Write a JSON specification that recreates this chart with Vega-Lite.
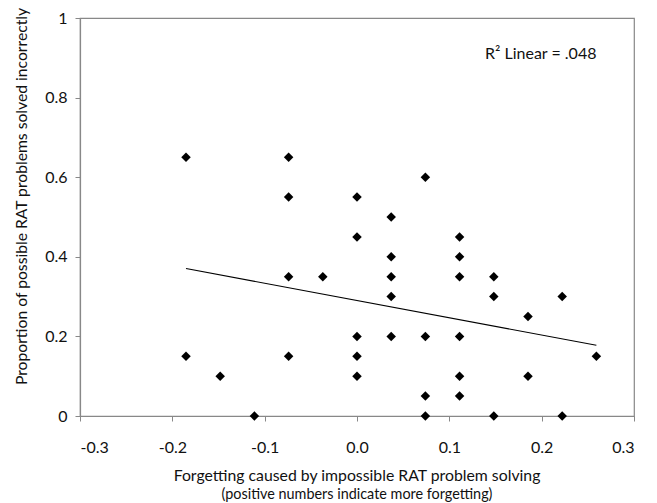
{
  "$schema": "https://vega.github.io/schema/vega-lite/v6.json",
  "width": 554,
  "height": 398,
  "autosize": "none",
  "padding": {"left": 80, "top": 18, "right": 23, "bottom": 87},
  "background": "white",
  "config": {
    "font": "Lato",
    "view": {"stroke": "#888", "strokeWidth": 1.2}
  },
  "title": {
    "text": "Forgetting caused by impossible RAT problem solving",
    "subtitle": "(positive numbers indicate more forgetting)",
    "orient": "bottom",
    "anchor": "middle",
    "font": "Lato",
    "fontSize": 15.8,
    "fontWeight": "normal",
    "color": "#111",
    "subtitleFont": "Lato",
    "subtitleFontSize": 14.4,
    "subtitleColor": "#111",
    "subtitlePadding": 3,
    "offset": 14
  },
  "data": {
    "values": [
      {"x": -0.18519, "y": 0.65}, {"x": -0.18519, "y": 0.15},
      {"x": -0.14815, "y": 0.1},
      {"x": -0.11111, "y": 0.0},
      {"x": -0.07407, "y": 0.65}, {"x": -0.07407, "y": 0.55}, {"x": -0.07407, "y": 0.35}, {"x": -0.07407, "y": 0.15},
      {"x": -0.03704, "y": 0.35},
      {"x": 0.0, "y": 0.55}, {"x": 0.0, "y": 0.45}, {"x": 0.0, "y": 0.2}, {"x": 0.0, "y": 0.15}, {"x": 0.0, "y": 0.1},
      {"x": 0.03704, "y": 0.5}, {"x": 0.03704, "y": 0.4}, {"x": 0.03704, "y": 0.35}, {"x": 0.03704, "y": 0.3}, {"x": 0.03704, "y": 0.2},
      {"x": 0.07407, "y": 0.6}, {"x": 0.07407, "y": 0.2}, {"x": 0.07407, "y": 0.05}, {"x": 0.07407, "y": 0.0},
      {"x": 0.11111, "y": 0.45}, {"x": 0.11111, "y": 0.4}, {"x": 0.11111, "y": 0.35}, {"x": 0.11111, "y": 0.2}, {"x": 0.11111, "y": 0.1}, {"x": 0.11111, "y": 0.05},
      {"x": 0.14815, "y": 0.35}, {"x": 0.14815, "y": 0.3}, {"x": 0.14815, "y": 0.0},
      {"x": 0.18519, "y": 0.25}, {"x": 0.18519, "y": 0.1},
      {"x": 0.22222, "y": 0.3}, {"x": 0.22222, "y": 0.0},
      {"x": 0.25926, "y": 0.15}
    ]
  },
  "layer": [
    {
      "mark": {"type": "point", "shape": "diamond", "filled": true, "color": "black", "size": 90, "opacity": 1},
      "encoding": {
        "x": {
          "field": "x", "type": "quantitative",
          "scale": {"domain": [-0.3, 0.3], "nice": false, "zero": false},
          "axis": {
            "values": [-0.3, -0.2, -0.1, 0, 0.1, 0.2, 0.3],
            "labelExpr": "replace(format(datum.value, '.1f'), '−', '-')",
            "title": null,
            "grid": false,
            "domainColor": "#888",
            "domainWidth": 1.2,
            "tickColor": "#888",
            "tickSize": 5,
            "labelPadding": 18,
            "labelFont": "Lato",
            "labelFontSize": 16,
            "labelColor": "#111"
          }
        },
        "y": {
          "field": "y", "type": "quantitative",
          "scale": {"domain": [0, 1], "nice": false},
          "axis": {
            "values": [0, 0.2, 0.4, 0.6, 0.8, 1],
            "labelExpr": "datum.value == 0 ? '0' : datum.value == 1 ? '1' : format(datum.value, '.1f')",
            "title": "Proportion of possible RAT problems solved incorrectly",
            "titleFont": "Lato",
            "titleFontSize": 15.7,
            "titleFontWeight": "normal",
            "titleColor": "#111",
            "titleX": -59,
            "titleY": 178,
            "titleAngle": -90,
            "titleAlign": "center",
            "titleBaseline": "middle",
            "grid": false,
            "domainColor": "#888",
            "domainWidth": 1.2,
            "tickColor": "#888",
            "tickSize": 5,
            "labelPadding": 8,
            "labelFont": "Lato",
            "labelFontSize": 16,
            "labelColor": "#111"
          }
        }
      }
    },
    {
      "transform": [{"regression": "y", "on": "x"}],
      "mark": {"type": "line", "color": "black", "strokeWidth": 1.1},
      "encoding": {
        "x": {"field": "x", "type": "quantitative"},
        "y": {"field": "y", "type": "quantitative"}
      }
    },
    {
      "data": {"values": [{"x": 0.199, "y": 0.91, "label": "R² Linear = .048"}]},
      "mark": {"type": "text", "font": "Lato", "fontSize": 16, "color": "#111", "align": "center", "baseline": "middle"},
      "encoding": {
        "x": {"field": "x", "type": "quantitative"},
        "y": {"field": "y", "type": "quantitative"},
        "text": {"field": "label"}
      }
    }
  ]
}
